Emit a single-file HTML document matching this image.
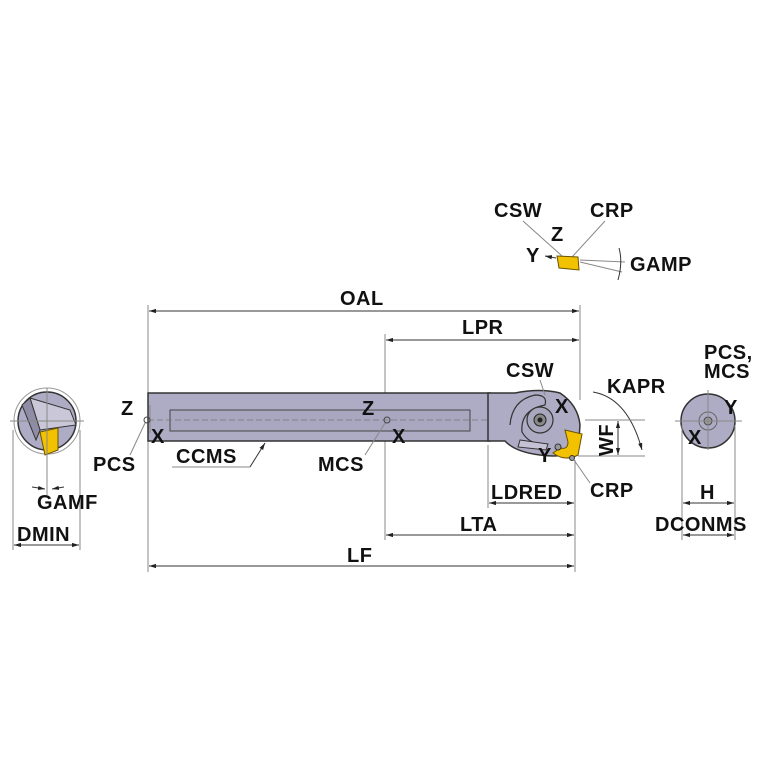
<!DOCTYPE html>
<html><head><meta charset="utf-8"><style>
html,body{margin:0;padding:0;background:#fff}
svg{display:block}
text{font-family:"Liberation Sans",Arial,sans-serif;font-weight:bold;fill:#111;font-size:20px;letter-spacing:0.5px}
.t{stroke:#888;stroke-width:1;fill:none}
.d{stroke:#333;stroke-width:1;fill:none}
</style></head><body>
<svg width="767" height="767" viewBox="0 0 767 767" xmlns="http://www.w3.org/2000/svg">
<defs>
<marker id="a" viewBox="0 0 10 10" refX="10" refY="5" markerWidth="7" markerHeight="7" orient="auto-start-reverse"><path d="M0,2 L10,5 L0,8 z" fill="#222"/></marker>
</defs>

<line class="t" x1="148" y1="305" x2="148" y2="572"/>
<line class="t" x1="580" y1="305" x2="580" y2="400"/>
<line class="t" x1="385" y1="334" x2="385" y2="540"/>
<line class="t" x1="488" y1="445" x2="488" y2="508"/>
<line class="t" x1="575" y1="460" x2="575" y2="572"/>
<line class="d" x1="149" y1="311" x2="579" y2="311" marker-start="url(#a)" marker-end="url(#a)"/>
<text x="340" y="305">OAL</text>
<line class="d" x1="386" y1="340" x2="579" y2="340" marker-start="url(#a)" marker-end="url(#a)"/>
<text x="462" y="334">LPR</text>
<line class="d" x1="489" y1="503" x2="574" y2="503" marker-start="url(#a)" marker-end="url(#a)"/>
<text x="491" y="499">LDRED</text>
<line class="d" x1="386" y1="535" x2="574" y2="535" marker-start="url(#a)" marker-end="url(#a)"/>
<text x="460" y="531">LTA</text>
<line class="d" x1="149" y1="566" x2="574" y2="566" marker-start="url(#a)" marker-end="url(#a)"/>
<text x="347" y="562">LF</text>

<rect x="148" y="393" width="342" height="48" fill="#aeabc5" stroke="#333" stroke-width="1.5"/>
<rect x="170" y="410" width="300" height="21" fill="#a9a6c0" stroke="#444" stroke-width="1"/>
<line x1="148" y1="420" x2="580" y2="420" stroke="#777" stroke-dasharray="6,3" stroke-width="0.8"/>
<line class="t" x1="150" y1="405" x2="150" y2="433"/>
<path d="M488,393 L515,393 Q540,388 560,393 Q578,405 580,425 L578,452 Q560,458 540,455 Q515,452 505,441 L488,441 Z" fill="#aeabc5" stroke="#333" stroke-width="1.5"/>
<path d="M510,425 Q512,400 535,395 Q548,395 545,405 Q520,410 522,432 Q530,446 548,444" fill="none" stroke="#333" stroke-width="1.2"/>
<circle cx="540" cy="420" r="13" fill="#a9a7bd" stroke="#333" stroke-width="1.2"/>
<circle cx="540" cy="420" r="6" fill="#888" stroke="#222"/>
<circle cx="540" cy="420" r="2.5" fill="#222"/>
<path d="M520,440 L548,444 L546,450 L518,447 Z" fill="#c4c2d4" stroke="#333"/>
<path d="M565,430 L582,434 L578,455 Q565,462 553,453 L560,448 Q568,450 568,442 Z" fill="#f2c200" stroke="#6b5300" stroke-width="1"/>
<circle cx="558" cy="447" r="3" fill="#999" stroke="#333"/>
<circle cx="572" cy="458" r="2.5" fill="#999" stroke="#333"/>

<circle cx="147" cy="420" r="3" fill="none" stroke="#444"/>
<circle cx="387" cy="420" r="3" fill="none" stroke="#444"/>
<text x="121" y="415">Z</text>
<text x="151" y="443">X</text>
<text x="93" y="471">PCS</text>
<line class="t" x1="145" y1="423" x2="130" y2="455"/>
<text x="176" y="463">CCMS</text>
<line class="t" x1="172" y1="467" x2="250" y2="467"/>
<line class="d" x1="250" y1="467" x2="265" y2="443" marker-end="url(#a)"/>
<text x="362" y="415">Z</text>
<text x="392" y="443">X</text>
<text x="318" y="471">MCS</text>
<line class="t" x1="385" y1="423" x2="365" y2="455"/>

<text x="506" y="377">CSW</text>
<line class="t" x1="540" y1="380" x2="545" y2="395"/>
<text x="555" y="413">X</text>
<text x="538" y="462">Y</text>
<text x="590" y="497">CRP</text>
<line class="t" x1="574" y1="460" x2="590" y2="483"/>
<text x="607" y="393">KAPR</text>
<path d="M593,392 Q628,398 642,450" class="d" marker-end="url(#a)"/>
<line class="t" x1="585" y1="420" x2="645" y2="420"/>
<line class="t" x1="578" y1="456" x2="645" y2="456"/>
<line class="d" x1="618" y1="421" x2="618" y2="455" marker-start="url(#a)" marker-end="url(#a)"/>
<text transform="translate(613,456) rotate(-90)">WF</text>

<text x="494" y="217">CSW</text>
<text x="590" y="217">CRP</text>
<line class="t" x1="523" y1="221" x2="562" y2="256"/>
<line class="t" x1="605" y1="221" x2="572" y2="257"/>
<text x="551" y="241" font-size="17">Z</text>
<text x="526" y="262" font-size="17">Y</text>
<line class="d" x1="556" y1="258" x2="545" y2="256" marker-end="url(#a)"/>
<path d="M557,256 L578,257 L579,270 L559,268 Z" fill="#f2c200" stroke="#6b5300"/>
<line class="t" x1="580" y1="260" x2="625" y2="262"/>
<line class="t" x1="580" y1="262" x2="622" y2="272"/>
<path d="M619,248 Q623,262 618,280" class="d"/>
<text x="630" y="271">GAMP</text>

<circle cx="47" cy="421" r="33" fill="none" stroke="#999"/>
<circle cx="47" cy="421" r="29" fill="#aeabc5" stroke="#333" stroke-width="1.5"/>
<path d="M30,398 L70,410 L76,425 L40,430 Z" fill="#c9c7d8" stroke="#333"/>
<path d="M22,405 L30,398 L40,430 L36,440 Z" fill="#8f8ca6" stroke="#333"/>
<path d="M40,432 L58,428 L58,450 L45,455 Z" fill="#f2c200" stroke="#6b5300"/>
<line class="t" x1="10" y1="421" x2="84" y2="421"/>
<line class="t" x1="47" y1="388" x2="47" y2="495"/>
<line class="t" x1="13" y1="430" x2="13" y2="550"/>
<line class="t" x1="80" y1="430" x2="80" y2="550"/>
<line class="d" x1="14" y1="545" x2="79" y2="545" marker-start="url(#a)" marker-end="url(#a)"/>
<text x="17" y="541">DMIN</text>
<line class="d" x1="32" y1="487" x2="45" y2="489" marker-end="url(#a)"/>
<line class="d" x1="64" y1="487" x2="52" y2="489" marker-end="url(#a)"/>
<text x="37" y="509">GAMF</text>

<circle cx="708" cy="421" r="27" fill="#aeabc5" stroke="#333" stroke-width="1.5"/>
<circle cx="708" cy="421" r="9" fill="none" stroke="#666"/>
<circle cx="708" cy="421" r="4" fill="#999" stroke="#444"/>
<line class="t" x1="675" y1="421" x2="742" y2="421"/>
<line class="t" x1="708" y1="390" x2="708" y2="450"/>
<text x="704" y="359">PCS,</text>
<text x="704" y="378">MCS</text>
<text x="724" y="414">Y</text>
<text x="688" y="444">X</text>
<line class="t" x1="682" y1="425" x2="682" y2="540"/>
<line class="t" x1="735" y1="425" x2="735" y2="540"/>
<line class="d" x1="683" y1="503" x2="734" y2="503" marker-start="url(#a)" marker-end="url(#a)"/>
<text x="700" y="499">H</text>
<line class="d" x1="683" y1="535" x2="734" y2="535" marker-start="url(#a)" marker-end="url(#a)"/>
<text x="655" y="531">DCONMS</text>
</svg>
</body></html>
